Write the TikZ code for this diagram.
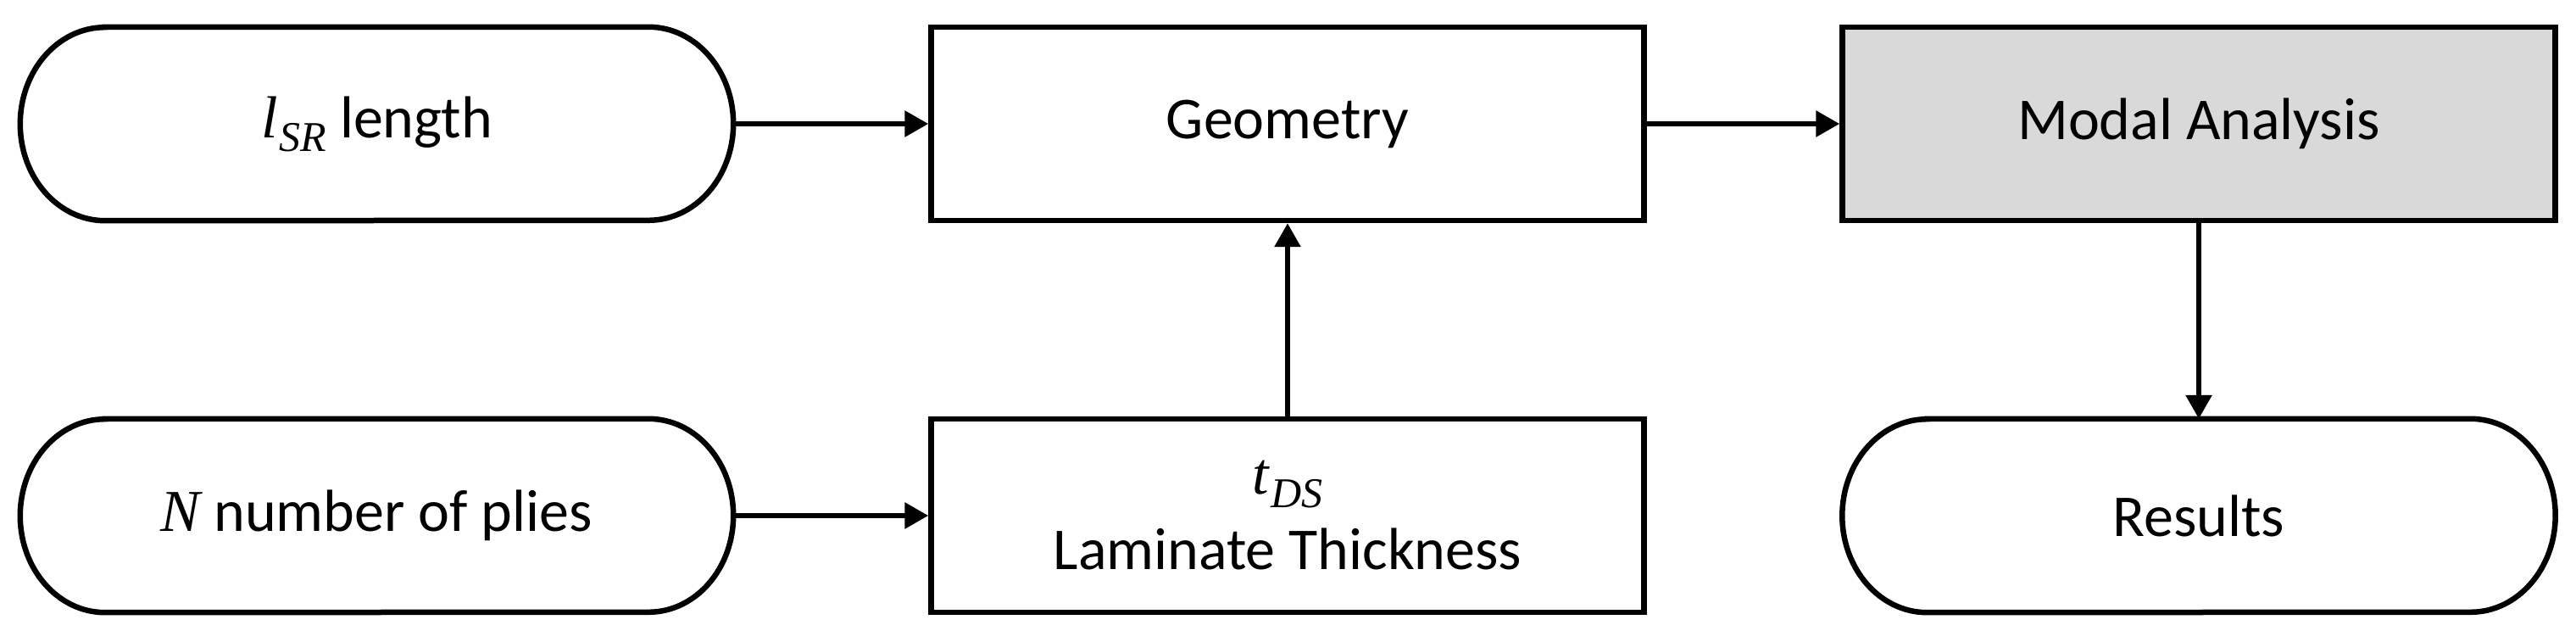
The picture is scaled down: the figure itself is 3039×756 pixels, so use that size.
\documentclass[tikz,border=0pt]{standalone}
\usepackage{fontspec}
\setmainfont{Carlito}
\newfontfamily\mvarfont{Liberation Serif}
\usetikzlibrary{arrows.meta}
\definecolor{boxgray}{HTML}{D9D9D9}
\newcommand{\mvar}[2]{{\mvarfont\itshape #1\kern2pt\raisebox{-16pt}{\fontsize{50}{50}\selectfont #2}}}
\tikzset{
  every node/.style={font=\fontsize{70}{89}\selectfont, align=center, inner sep=0pt},
  procbox/.style={draw=black, line width=6.5pt, minimum width=841pt, minimum height=228pt},
  pillnode/.style={minimum width=841pt, minimum height=228pt},
  pilloutline/.style={draw=black, line width=6.5pt},
  flow/.style={line width=6pt, -{Triangle[length=28pt,width=30pt]}}
}
\begin{document}
\begin{tikzpicture}[x=1pt,y=1pt]
  \useasboundingbox (0,0) rectangle (3039,756);
  % nodes
  \node[pillnode] (lsr) at (444.5,610) {\mvar{l}{SR} length};
  \node[pillnode] (nply) at (444.5,148) {{\mvarfont\itshape N} number of plies};
  \node[procbox] (geo) at (1519,610) {Geometry};
  \node[procbox] (tds) at (1519,148) {\mvar{t}{DS}\\Laminate Thickness};
  \node[procbox, fill=boxgray] (modal) at (2594,610) {Modal Analysis};
  \node[pillnode] (res) at (2594,148) {Results};
  % pill outlines
  \foreach \n in {lsr,nply,res}{
    \draw[pilloutline] ([xshift=100pt]\n.north west) -- ([xshift=-100pt]\n.north east)
      arc[start angle=90, end angle=-90, x radius=100pt, y radius=114pt]
      -- ([xshift=100pt]\n.south west)
      arc[start angle=270, end angle=90, x radius=100pt, y radius=114pt]
      -- cycle;
  }
  % connectors
  \draw[flow] (lsr.east) -- (geo.west);
  \draw[flow] (nply.east) -- (tds.west);
  \draw[flow] (tds.north) -- (geo.south);
  \draw[flow] (geo.east) -- (modal.west);
  \draw[flow] (modal.south) -- (res.north);
\end{tikzpicture}
\end{document}
